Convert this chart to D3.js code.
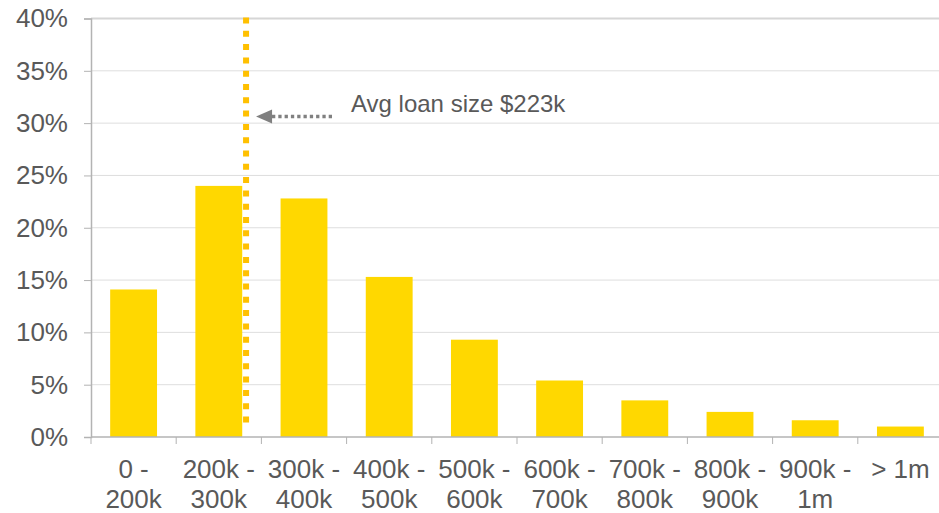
<!DOCTYPE html>
<html>
<head>
<meta charset="utf-8">
<script src="https://cdn.jsdelivr.net/npm/d3@7"></script>
<style>
  html, body { margin: 0; padding: 0; background: #fff; }
  svg { display: block; font-family: "Liberation Sans", Arial, sans-serif; }
</style>
</head>
<body>
<svg id="chart" width="939" height="513"></svg>
<script>
// Loan size distribution (share of loans per bucket)
const categories = [
  ["0 -", "200k"], ["200k -", "300k"], ["300k -", "400k"], ["400k -", "500k"],
  ["500k -", "600k"], ["600k -", "700k"], ["700k -", "800k"], ["800k -", "900k"],
  ["900k -", "1m"], ["> 1m"]
];
const shares = [14.1, 24.0, 22.8, 15.3, 9.3, 5.4, 3.5, 2.4, 1.6, 1.0];
const yTicks = [0, 5, 10, 15, 20, 25, 30, 35, 40];
const avgLabel = "Avg loan size $223k";
const avgBucket = 1;        // bucket holding the average marker
const avgOffset = 0.82;     // position of the marker inside that bucket

const svg = d3.select("#chart");
const plotLeft = 91, plotRight = 943, plotTop = 18.5, plotBottom = 437;
const visibleRight = 939;

const keys = categories.map(c => c.join(" "));
const x = d3.scaleBand().domain(keys).range([plotLeft, plotRight]).paddingInner(0.45).paddingOuter(0.225);
const xb = d3.scaleBand().domain(keys).range([plotLeft, plotRight]);
const y = d3.scaleLinear().domain([0, 40]).range([plotBottom, plotTop]);

const textColor = "#595959";
const axisFont = 26;

// gridlines
svg.append("g").selectAll("line").data(yTicks.filter(t => t > 0)).join("line")
  .attr("x1", plotLeft).attr("x2", visibleRight)
  .attr("y1", d => y(d)).attr("y2", d => y(d))
  .attr("stroke", d => d === 40 ? "#d6d6d6" : "#dedede")
  .attr("stroke-width", d => d === 40 ? 2 : 1);

// y axis
const yAxis = svg.append("g").attr("transform", `translate(${plotLeft},0)`)
  .call(d3.axisLeft(y).tickValues(yTicks).tickFormat(d => d + "%").tickSize(7).tickPadding(16));
yAxis.select(".domain").attr("stroke", "#b3b3b3").attr("stroke-width", 1.5);
yAxis.selectAll(".tick line").attr("stroke", "#b3b3b3");
yAxis.selectAll(".tick text").attr("fill", textColor).attr("font-size", axisFont)
  .attr("font-family", "Liberation Sans, Arial, sans-serif");

// bars
svg.append("g").selectAll("rect").data(shares).join("rect")
  .attr("x", (d, i) => x(keys[i]))
  .attr("width", x.bandwidth())
  .attr("y", d => y(d))
  .attr("height", d => y(0) - y(d))
  .attr("fill", "#FFD800");

// x axis
svg.append("line").attr("x1", plotLeft).attr("x2", visibleRight)
  .attr("y1", plotBottom).attr("y2", plotBottom)
  .attr("stroke", "#b3b3b3").attr("stroke-width", 1.5);
svg.append("g").selectAll("line").data(keys).join("line")
  .attr("x1", d => xb(d)).attr("x2", d => xb(d))
  .attr("y1", plotBottom).attr("y2", plotBottom + 7)
  .attr("stroke", "#b3b3b3");

const xl = svg.append("g").selectAll("text").data(categories).join("text")
  .attr("x", (d, i) => xb(keys[i]) + xb.bandwidth() / 2)
  .attr("y", 478)
  .attr("text-anchor", "middle")
  .attr("fill", textColor)
  .attr("font-size", axisFont);
xl.selectAll("tspan").data(d => d).join("tspan")
  .attr("x", function () { return d3.select(this.parentNode).attr("x"); })
  .attr("dy", (d, i) => i === 0 ? 0 : 30)
  .text(d => d);

// average marker
const avgX = xb(keys[avgBucket]) + xb.bandwidth() * avgOffset;
svg.append("line")
  .attr("x1", avgX).attr("x2", avgX)
  .attr("y1", plotTop - 1).attr("y2", 428)
  .attr("stroke", "#FFC000").attr("stroke-width", 6)
  .attr("stroke-dasharray", "6 7.3");

// arrow pointing to the marker
const arrowY = 116.5;
svg.append("line")
  .attr("x1", 332).attr("x2", 270)
  .attr("y1", arrowY).attr("y2", arrowY)
  .attr("stroke", "#808080").attr("stroke-width", 3.5)
  .attr("stroke-dasharray", "3.3 3");
svg.append("path")
  .attr("d", d3.line()([[avgX + 10, arrowY], [avgX + 26, arrowY - 7], [avgX + 26, arrowY + 7]]) + "Z")
  .attr("fill", "#808080");

svg.append("text")
  .attr("x", 351).attr("y", 111.5)
  .attr("fill", textColor)
  .attr("font-size", 24)
  .text(avgLabel);
</script>
</body>
</html>
